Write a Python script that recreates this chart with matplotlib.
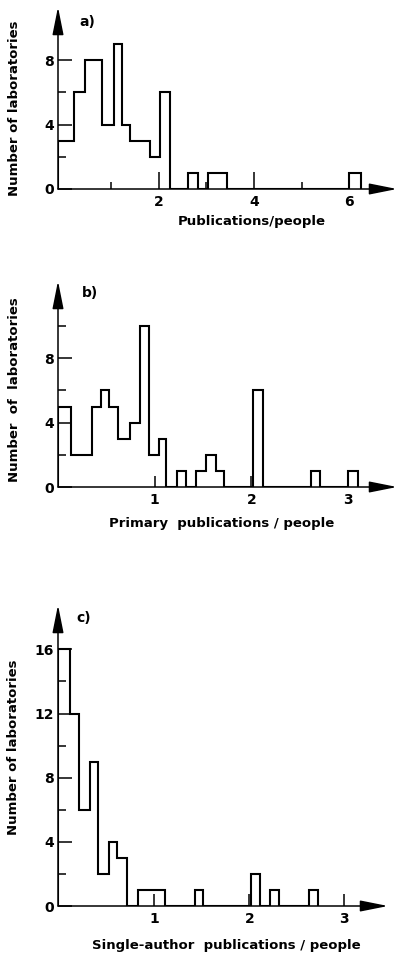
import matplotlib as mpl
mpl.use('Agg')

import numpy as np
import matplotlib.pyplot as plt

# a) publications / people
a_edges = [-0.11, 0.23, 0.45, 0.80, 1.05, 1.22, 1.40, 1.82, 2.03, 2.24,
           2.62, 2.83, 3.04, 3.43, 6.00, 6.24]
a_counts = [3, 6, 8, 4, 9, 4, 3, 2, 6, 0, 1, 0, 1, 0, 1]

# b) primary publications / people
b_edges = [0.0, 0.13, 0.35, 0.44, 0.53, 0.62, 0.74, 0.85, 0.94, 1.04, 1.12,
           1.23, 1.32, 1.43, 1.53, 1.63, 1.72, 2.02, 2.12, 2.62, 2.71, 3.00, 3.10]
b_counts = [5, 2, 5, 6, 5, 3, 4, 10, 2, 3, 0, 1, 0, 1, 2, 1, 0, 6, 0, 1, 0, 1]

# c) single-author publications / people
c_edges = [-0.015, 0.11, 0.21, 0.32, 0.41, 0.52, 0.61, 0.71, 0.83, 1.11,
           1.43, 1.51, 2.02, 2.11, 2.22, 2.31, 2.63, 2.72]
c_counts = [16, 12, 6, 9, 2, 4, 3, 0, 1, 0, 1, 0, 2, 0, 1, 0, 1]

ylabel = "Number of laboratories"

W, H = 397, 955
fig = plt.figure(figsize=(W / 100, H / 100), dpi=100)
plt.rcParams['font.family'] = ['DejaVu Sans']
FS = 9.5


def panel(box, xlim, ylim, xmaj, xmin, ymaj, ymin, xticklen):
    left, top, right, bottom = box
    ax = fig.add_axes([left / W, 1 - bottom / H, (right - left) / W, (bottom - top) / H])
    ax.set_xlim(*xlim)
    ax.set_ylim(*ylim)
    for s in ax.spines.values():
        s.set_visible(False)
    ax.set_xticks(xmaj)
    ax.set_xticks(xmin, minor=True)
    ax.set_yticks(ymaj)
    ax.set_yticks(ymin, minor=True)
    ax.tick_params(axis='x', which='major', direction='in', length=xticklen, width=1.1, pad=4)
    ax.tick_params(axis='x', which='minor', direction='in', length=5, width=1.1)
    ax.tick_params(axis='y', which='major', direction='in', length=10, width=1.1, pad=3)
    ax.tick_params(axis='y', which='minor', direction='in', length=6, width=1.1)
    for t in ax.get_xticklabels() + ax.get_yticklabels():
        t.set_fontsize(10)
        t.set_fontweight('bold')
    # axes drawn as arrows
    arrow = dict(arrowstyle='-|>,head_length=0.85,head_width=0.17', color='k',
                 lw=1.1, shrinkA=0, shrinkB=0, mutation_scale=20)
    ax.annotate('', xy=(1, 0), xytext=(0, 0), xycoords='axes fraction', arrowprops=arrow)
    ax.annotate('', xy=(0, 1), xytext=(0, 0), xycoords='axes fraction', arrowprops=arrow)
    return ax


def ftext(x, y, s, size=FS, **kw):
    fig.text(x / W, 1 - y / H, s, ha='center', va='center', fontsize=size,
             fontweight='bold', **kw)


# panel a
ax1 = panel((58, 7, 397, 189), (-0.116, 7.006), (0, 11.3),
            [2, 4, 6], [1, 3, 5], [0, 4, 8], [2, 6], 12)
ax1.stairs(a_counts, a_edges, baseline=0, color='k', lw=1.5)
ftext(87, 22, "a)", size=10)
ftext(252, 222, "Publications/people")
ftext(15, 108, ylabel, rotation=90)

# panel b
ax2 = panel((58, 281, 397, 487), (0, 3.506), (0, 12.8),
            [1, 2, 3], [], [0, 4, 8], [2, 6, 10], 8)
ax2.stairs(b_counts, b_edges, baseline=0, color='k', lw=1.5)
ftext(90, 293, "b)", size=10)
ftext(222, 523, "Primary  publications / people")
ftext(15, 390, "Number  of  laboratories", rotation=90)

# panel c
ax3 = panel((58, 605, 388, 906), (-0.016, 3.46), (0, 18.77),
            [1, 2, 3], [], [0, 4, 8, 12, 16], [2, 6, 10, 14], 9)
ax3.stairs(c_counts, c_edges, baseline=0, color='k', lw=1.5)
ftext(84, 618, "c)", size=10)
ftext(226, 945, "Single-author  publications / people")
ftext(14, 747, ylabel, rotation=90)

plt.savefig("out.png", dpi=100)
